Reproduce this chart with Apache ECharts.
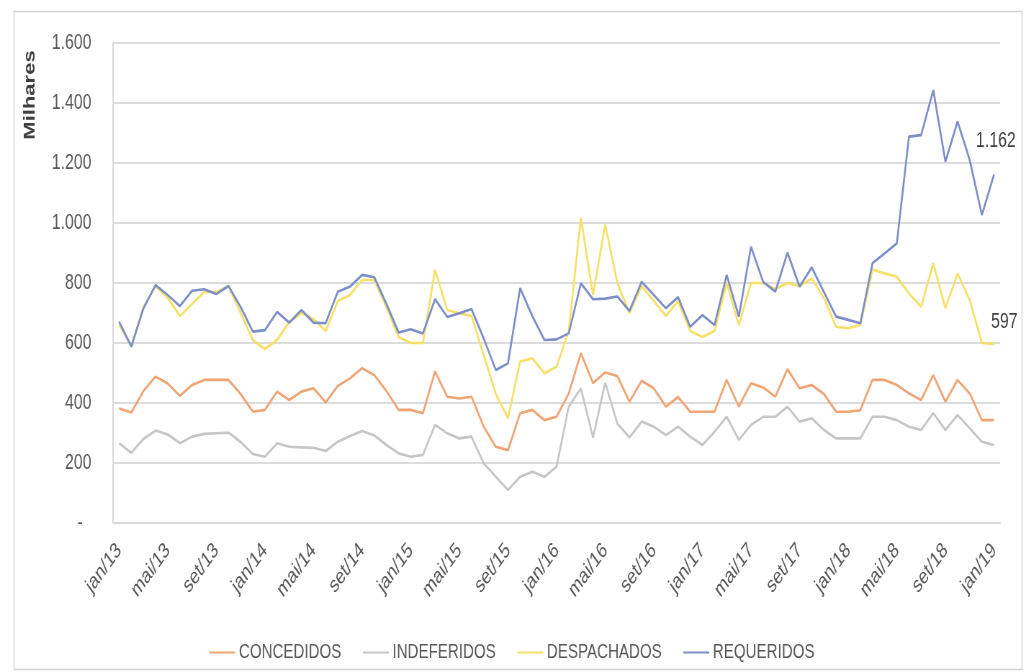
<!DOCTYPE html>
<html>
<head>
<meta charset="utf-8">
<script src="https://cdn.jsdelivr.net/npm/echarts@6/dist/echarts.min.js"></script>
<style>
  html, body { margin: 0; padding: 0; background: #ffffff; overflow: hidden; width: 1024px; height: 672px; }
  /* the chart is laid out wide and condensed horizontally to fit the page */
  #chart { width: 1422px; height: 672px; transform: scaleX(0.72); transform-origin: 0 0; }
</style>
</head>
<body>
<div id="chart"></div>
<script>
// Month labels (pt-BR) from jan/13 to jan/19
const MONTHS = ['jan', 'fev', 'mar', 'abr', 'mai', 'jun', 'jul', 'ago', 'set', 'out', 'nov', 'dez'];
const YEARS = ['13', '14', '15', '16', '17', '18', '19'];

// Monthly totals, in thousands
const concedidos = [382, 368, 440, 488, 465, 424, 460, 477, 477, 477, 430, 371,
  377, 438, 410, 438, 449, 402, 457, 482, 516, 493, 440, 377,
  377, 366, 505, 421, 415, 421, 321, 254, 243, 366, 377, 343,
  354, 432, 566, 466, 502, 490, 404, 474, 449, 388, 420, 371,
  371, 371, 477, 388, 466, 452, 421, 513, 449, 460, 430, 371,
  371, 376, 477, 477, 460, 432, 410, 493, 404, 477, 432, 343,
  343];
const indeferidos = [266, 234, 280, 308, 295, 266, 288, 297, 299, 301, 270, 230,
  221, 266, 254, 252, 251, 240, 271, 290, 307, 292, 260, 232,
  221, 227, 327, 299, 282, 288, 199, 154, 110, 154, 171, 154,
  188, 388, 449, 285, 468, 332, 285, 338, 321, 293, 321, 288,
  260, 304, 354, 277, 327, 354, 354, 388, 338, 349, 310, 282,
  282, 282, 354, 354, 343, 321, 310, 366, 310, 360, 316, 271,
  260];
const despachados = [660, 590, 720, 790, 750, 690, 730, 770, 770, 790, 700, 610,
  580, 610, 670, 700, 680, 640, 740, 760, 810, 810, 720, 620,
  600, 600, 843, 710, 699, 690, 560, 430, 349, 538, 549, 499,
  521, 640, 1017, 760, 995, 800, 700, 790, 740, 690, 740, 640,
  620, 640, 800, 660, 800, 800, 780, 800, 790, 815, 750, 654,
  649, 660, 845, 832, 821, 766, 721, 866, 716, 832, 743, 600,
  597];
const requeridos = [671, 588, 715, 793, 760, 723, 774, 779, 763, 790, 720, 638,
  643, 704, 668, 710, 668, 666, 771, 788, 827, 819, 730, 635,
  646, 632, 746, 687, 699, 713, 615, 510, 532, 783, 690, 610,
  612, 632, 799, 746, 748, 755, 707, 804, 760, 716, 753, 654,
  693, 660, 827, 688, 921, 804, 771, 901, 788, 852, 770, 688,
  677, 666, 866, 899, 932, 1288, 1293, 1443, 1204, 1338, 1210, 1027,
  1162];

const categories = [];
YEARS.forEach(function (y, yi) {
  MONTHS.forEach(function (m, mi) {
    if (yi < YEARS.length - 1 || mi === 0) categories.push(m + '/' + y);
  });
});

const FONT = '"Liberation Sans", Arial, sans-serif';

function fmtThousands(v) {
  if (v === 0) return '-  ';
  return String(v).replace(/\B(?=(\d{3})+(?!\d))/g, '.');
}

function endLabel(offset) {
  return {
    show: true, offset: offset,
    formatter: function (p) { return fmtThousands(p.value); },
    color: '#404040', fontSize: 22, fontFamily: FONT
  };
}

const chart = echarts.init(document.getElementById('chart'), null, { renderer: 'canvas' });

chart.setOption({
  animation: false,
  backgroundColor: '#ffffff',
  graphic: [
    {
      type: 'rect', left: 17, top: 9,
      shape: { width: 1400, height: 658 },
      style: { fill: 'none', stroke: '#d4d4d4', lineWidth: 1.4 },
      silent: true, z: -1
    },
    {
      type: 'text', x: 42, y: 95, rotation: Math.PI / 2,
      style: {
        text: 'Milhares', fill: '#404040', fontWeight: 'bold',
        fontSize: 22, fontFamily: FONT, align: 'center', verticalAlign: 'middle'
      },
      silent: true
    }
  ],
  grid: { left: 157, right: 33, top: 43, bottom: 149, containLabel: false },
  legend: {
    bottom: 4, left: 'center',
    itemWidth: 36, itemHeight: 2, itemGap: 30,
    icon: 'rect',
    textStyle: { color: '#595959', fontSize: 21, fontFamily: FONT },
    data: ['CONCEDIDOS', 'INDEFERIDOS', 'DESPACHADOS', 'REQUERIDOS']
  },
  xAxis: {
    type: 'category',
    data: categories,
    boundaryGap: true,
    axisLine: { lineStyle: { color: '#d9d9d9', width: 2 } },
    axisTick: { show: false },
    axisLabel: {
      interval: 3, rotate: 45, margin: 24,
      color: '#595959', fontSize: 22, fontFamily: FONT
    }
  },
  yAxis: {
    type: 'value',
    min: 0, max: 1600, interval: 200,
    axisLine: { show: true, lineStyle: { color: '#d9d9d9', width: 2 } },
    axisTick: { show: false },
    splitLine: { lineStyle: { color: '#dcdcdc', width: 2 } },
    axisLabel: {
      margin: 30, color: '#595959', fontSize: 22, fontFamily: FONT,
      formatter: fmtThousands
    }
  },
  series: [
    {
      name: 'CONCEDIDOS', type: 'line', data: concedidos,
      symbol: 'none', lineStyle: { width: 2.6, color: '#f0a474' },
      itemStyle: { color: '#f0a474' }, z: 2
    },
    {
      name: 'INDEFERIDOS', type: 'line', data: indeferidos,
      symbol: 'none', lineStyle: { width: 2.6, color: '#c6c6c6' },
      itemStyle: { color: '#c6c6c6' }, z: 3
    },
    {
      name: 'DESPACHADOS', type: 'line', data: despachados,
      symbol: 'none', lineStyle: { width: 2.6, color: '#f6e066' },
      itemStyle: { color: '#f6e066' }, z: 4,
      endLabel: endLabel([-12, -22])
    },
    {
      name: 'REQUERIDOS', type: 'line', data: requeridos,
      symbol: 'none', lineStyle: { width: 2.6, color: '#7d8ec8' },
      itemStyle: { color: '#7d8ec8' }, z: 5,
      endLabel: endLabel([-33, -33])
    }
  ]
});
</script>
</body>
</html>
